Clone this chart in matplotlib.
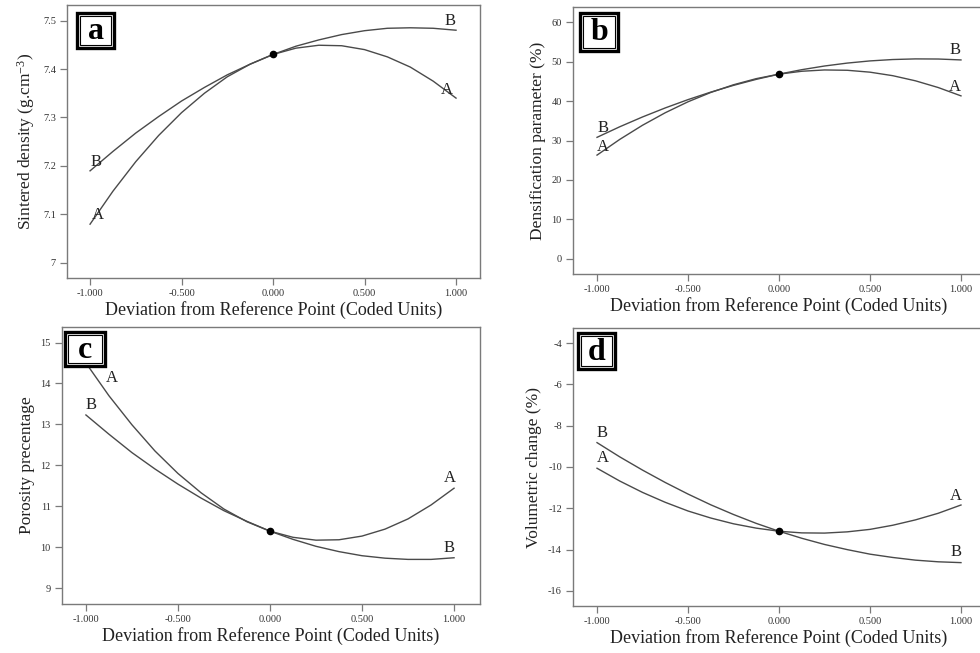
import matplotlib
matplotlib.use('Agg')
import matplotlib.pyplot as plt
from matplotlib.patches import Rectangle

plt.rcParams['font.family'] = ['Liberation Serif', 'DejaVu Serif']
plt.rcParams['axes.unicode_minus'] = False
plt.rcParams['mathtext.default'] = 'regular'

# coded deviation from the reference point
x_coded = [-1.0, -0.875, -0.75, -0.625, -0.5, -0.375, -0.25, -0.125, 0.0,
           0.125, 0.25, 0.375, 0.5, 0.625, 0.75, 0.875, 1.0]
x_ticks = [-1.0, -0.5, 0.0, 0.5, 1.0]
x_ticklabels = ['-1.000', '-0.500', '0.000', '0.500', '1.000']

# (a) sintered density
dens_A = [7.080, 7.148, 7.209, 7.263, 7.310, 7.350, 7.384, 7.410, 7.430,
          7.443, 7.449, 7.448, 7.440, 7.425, 7.404, 7.375, 7.340]
dens_B = [7.190, 7.230, 7.268, 7.302, 7.334, 7.362, 7.388, 7.410, 7.430,
          7.447, 7.460, 7.471, 7.479, 7.484, 7.485, 7.484, 7.480]
dens_ref = 7.43

# (b) densification parameter
dp_A = [26.30, 30.28, 33.86, 37.03, 39.80, 42.16, 44.11, 45.66, 46.80,
        47.53, 47.86, 47.78, 47.30, 46.41, 45.11, 43.41, 41.30]
dp_B = [30.80, 33.48, 35.96, 38.25, 40.35, 42.25, 43.96, 45.48, 46.80,
        47.93, 48.86, 49.60, 50.15, 50.50, 50.66, 50.63, 50.40]
dp_ref = 46.8

# (c) porosity
por_A = [14.50, 13.70, 12.99, 12.35, 11.80, 11.33, 10.93, 10.62, 10.39,
         10.24, 10.17, 10.18, 10.27, 10.44, 10.69, 11.03, 11.44]
por_B = [13.23, 12.76, 12.31, 11.91, 11.54, 11.20, 10.89, 10.63, 10.39,
         10.19, 10.02, 9.89, 9.79, 9.73, 9.70, 9.70, 9.74]
por_ref = 10.39

# (d) volumetric change
vol_A = [-10.06, -10.68, -11.23, -11.71, -12.13, -12.47, -12.75, -12.96, -13.11,
         -13.19, -13.20, -13.14, -13.02, -12.82, -12.56, -12.24, -11.84]
vol_B = [-8.82, -9.51, -10.15, -10.75, -11.31, -11.83, -12.30, -12.73, -13.11,
         -13.45, -13.75, -14.00, -14.22, -14.38, -14.51, -14.59, -14.63]
vol_ref = -13.11

W, H = 980, 653
fig = plt.figure(figsize=(W / 100, H / 100), dpi=100)

line_col = '#4a4a4a'
spine_col = '#7a7a7a'


def make_panel(rect_px, xlim, ylim, yticks, ylabel, A, B, ref, labels, letter, box_px):
    l, t, r, b = rect_px
    ax = fig.add_axes([l / W, 1 - b / H, (r - l) / W, (b - t) / H])
    ax.plot(x_coded, A, color=line_col, lw=1.0)
    ax.plot(x_coded, B, color=line_col, lw=1.0)
    ax.plot([0], [ref], marker='o', ms=4.5, color='black', mec='black')
    for txt, xx, yy in labels:
        ax.text(xx, yy, txt, fontsize=12, ha='center', va='center', color='#222222')
    ax.set_xlim(*xlim)
    ax.set_ylim(*ylim)
    ax.set_xticks(x_ticks)
    ax.set_xticklabels(x_ticklabels)
    ax.set_yticks(yticks)
    ax.set_yticklabels([f'{v:g}' for v in yticks])
    ax.tick_params(direction='out', length=5, width=0.9, color=spine_col,
                   labelsize=7.5, labelcolor='#333333', pad=3)
    for s in ax.spines.values():
        s.set_color(spine_col)
        s.set_linewidth(1.0)
    ax.set_xlabel('Deviation from Reference Point (Coded Units)', fontsize=13,
                  color='#222222', labelpad=2)
    ax.set_ylabel(ylabel, fontsize=12.5, color='#222222', labelpad=4)

    # letter box with a double border
    bx, by, bw, bh = box_px
    fig.patches.append(Rectangle((bx / W, 1 - (by + bh) / H), bw / W, bh / H,
                                 transform=fig.transFigure, fill=True, fc='white',
                                 ec='black', lw=2.4, zorder=5))
    fig.patches.append(Rectangle(((bx + 3) / W, 1 - (by + bh - 3) / H), (bw - 6) / W,
                                 (bh - 6) / H, transform=fig.transFigure, fill=False,
                                 ec='black', lw=0.8, zorder=6))
    fig.text((bx + bw / 2) / W, 1 - (by + bh / 2 + 1) / H, letter, fontsize=23,
             fontweight='bold', ha='center', va='center', zorder=7)
    return ax


make_panel((67, 5, 480, 278), (-1.126, 1.131), (6.969, 7.532),
           [7, 7.1, 7.2, 7.3, 7.4, 7.5], 'Sintered density (g.cm$^{-3}$)',
           dens_A, dens_B, dens_ref,
           [('B', 0.967, 7.50), ('A', 0.949, 7.357), ('B', -0.97, 7.209), ('A', -0.96, 7.099)],
           'a', (77, 13, 37, 35))

make_panel((573, 7, 985, 274), (-1.132, 1.132), (-3.8, 63.8),
           [0, 10, 20, 30, 40, 50, 60], 'Densification parameter (%)',
           dp_A, dp_B, dp_ref,
           [('B', 0.967, 52.9), ('A', 0.967, 43.6), ('B', -0.969, 33.1), ('A', -0.969, 28.4)],
           'b', (580, 13, 38, 38))

make_panel((62, 327, 480, 604), (-1.13, 1.141), (8.61, 15.38),
           [9, 10, 11, 12, 13, 14, 15], 'Porosity precentage',
           por_A, por_B, por_ref,
           [('A', -0.86, 14.13), ('B', -0.975, 13.48), ('A', 0.975, 11.68), ('B', 0.97, 9.97)],
           'c', (65, 332, 40, 34))

make_panel((573, 328, 985, 606), (-1.132, 1.132), (-16.73, -3.27),
           [-16, -14, -12, -10, -8, -6, -4], 'Volumetric change (%)',
           vol_A, vol_B, vol_ref,
           [('B', -0.97, -8.37), ('A', -0.97, -9.58), ('A', 0.97, -11.39), ('B', 0.97, -14.13)],
           'd', (578, 333, 37, 36))

fig.savefig('out.png', dpi=100)
